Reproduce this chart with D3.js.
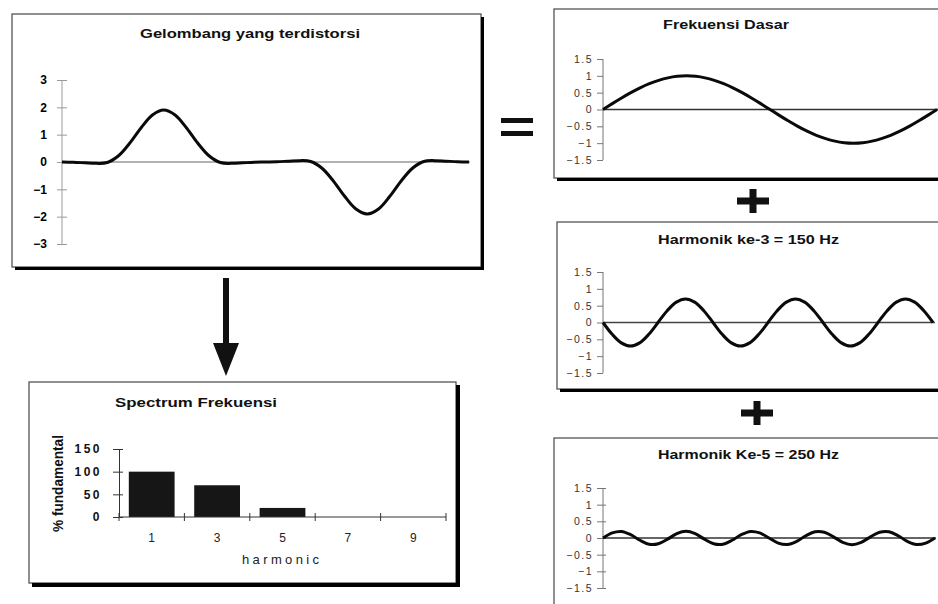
<!DOCTYPE html>
<html><head><meta charset="utf-8">
<script src="https://cdn.jsdelivr.net/npm/d3@7"></script>
<style>
body{margin:0;background:#fff}
svg{display:block}
text{font-family:"Liberation Sans",Arial,Helvetica,sans-serif}
</style>
</head><body>
<svg id="c" width="938" height="604"></svg>
<script>
const distortedWave = [0, -0.01, -0.03, -0.05, -0.02, 0.228, 0.693, 1.255, 1.72, 1.9, 1.72, 1.255, 0.693, 0.228, -0.02, -0.05, -0.03, -0.01, 0,
  0.01, 0.03, 0.05, 0.02, -0.228, -0.693, -1.255, -1.72, -1.9, -1.72, -1.255, -0.693, -0.228, 0.02, 0.05, 0.03, 0.01, 0];
const fundamentalWave = [0, 0.174, 0.342, 0.5, 0.643, 0.766, 0.866, 0.94, 0.985, 1, 0.985, 0.94, 0.866, 0.766, 0.643, 0.5, 0.342, 0.174, 0,
  -0.174, -0.342, -0.5, -0.643, -0.766, -0.866, -0.94, -0.985, -1, -0.985, -0.94, -0.866, -0.766, -0.643, -0.5, -0.342, -0.174, 0];
const harmonic3Wave = [0, -0.35, -0.606, -0.7, -0.606, -0.35, 0, 0.35, 0.606, 0.7, 0.606, 0.35, 0, -0.35, -0.606, -0.7, -0.606, -0.35, 0,
  0.35, 0.606, 0.7, 0.606, 0.35, 0, -0.35, -0.606, -0.7, -0.606, -0.35, 0, 0.35, 0.606, 0.7, 0.606, 0.35, 0];
const harmonic5Wave = [0, 0.153, 0.197, 0.1, -0.068, -0.188, -0.173, -0.035, 0.129, 0.2, 0.129, -0.035, -0.173, -0.188, -0.068, 0.1, 0.197, 0.153, 0,
  -0.153, -0.197, -0.1, 0.068, 0.188, 0.173, 0.035, -0.129, -0.2, -0.129, 0.035, 0.173, 0.188, 0.068, -0.1, -0.197, -0.153, 0];
const distortedTicks = [3, 2, 1, 0, -1, -2, -3];
const componentTicks = [1.5, 1, 0.5, 0, -0.5, -1, -1.5];
const harmonicOrders = ["1", "3", "5", "7", "9"];
const harmonicPercent = [100, 70, 20, 0, 0];
const spectrumTicks = [0, 50, 100, 150];
const titles = ["Gelombang yang terdistorsi", "Frekuensi Dasar", "Harmonik ke-3 = 150 Hz", "Harmonik Ke-5 = 250 Hz", "Spectrum Frekuensi"];

const svg = d3.select("#c");

// ---- frames ----
function frame(x, y, w, h, sw) {
  const g = svg.append("g");
  g.append("rect").attr("x", x).attr("y", y).attr("width", w).attr("height", h)
    .attr("fill", "none").attr("stroke", "#555").attr("stroke-width", 1.3);
  g.append("line").attr("x1", x + w + sw / 2).attr("x2", x + w + sw / 2).attr("y1", y + 3).attr("y2", y + h + sw)
    .attr("stroke", "#000").attr("stroke-width", sw);
  g.append("line").attr("x1", x + 3).attr("x2", x + w + sw).attr("y1", y + h + sw / 2).attr("y2", y + h + sw / 2)
    .attr("stroke", "#000").attr("stroke-width", sw);
}
frame(12, 14, 469, 253, 3);
frame(554, 9, 400, 169, 3);
frame(557, 222, 400, 167, 3);
frame(554, 438, 400, 200, 3);
frame(29, 382, 427, 201, 4);

function title(txt, cx, base, len) {
  svg.append("text").attr("x", cx).attr("y", base).attr("text-anchor", "middle")
    .attr("font-size", 12).attr("font-weight", "bold").attr("fill", "#111")
    .attr("textLength", len).attr("lengthAdjust", "spacingAndGlyphs").text(txt);
}

// ---- wave panels ----
function wavePanel(o) {
  const x = d3.scaleLinear().domain([0, o.data.length - 1]).range([o.x0, o.x1]);
  const y = d3.scaleLinear().domain([d3.min(o.ticks), d3.max(o.ticks)]).range([o.yb, o.yt]);
  const ax = d3.axisLeft(y).tickValues(o.ticks).tickSize(o.tickOut).tickPadding(o.pad)
    .tickFormat(d => d3.format("")(d));
  const g = svg.append("g").attr("transform", `translate(${o.x0},0)`).call(ax);
  g.select(".domain").attr("stroke", o.axisColor).attr("stroke-width", 1).attr("d", `M0,${y(d3.max(o.ticks))}V${y(d3.min(o.ticks))}`);
  g.selectAll(".tick line").attr("stroke", o.axisColor).attr("x2", -o.tickOut).attr("x1", o.tickIn);
  g.selectAll(".tick text").attr("font-size", o.fs).attr("font-weight", o.fw).attr("fill", o.labelColor)
    .attr("letter-spacing", o.ls).attr("font-family", '"Liberation Sans",Arial,sans-serif');
  svg.append("line").attr("x1", o.x0).attr("x2", o.zx1).attr("y1", y(0)).attr("y2", y(0))
    .attr("stroke", o.zeroColor).attr("stroke-width", o.zeroW);
  svg.append("path").datum(o.data)
    .attr("d", d3.line().x((d, i) => x(i)).y(d => y(d)).curve(d3.curveCatmullRom))
    .attr("fill", "none").attr("stroke", "#0a0a0a").attr("stroke-width", 3).attr("stroke-linejoin", "round");
}

wavePanel({data: distortedWave, ticks: distortedTicks, x0: 62, x1: 469, zx1: 470, yt: 80, yb: 244,
  tickOut: 5, tickIn: 5, pad: 10, fs: 12, fw: "bold", ls: 0, labelColor: "#000", axisColor: "#999", zeroColor: "#666", zeroW: 1});
wavePanel({data: fundamentalWave, ticks: componentTicks, x0: 603, x1: 937, zx1: 938, yt: 59, yb: 160,
  tickOut: 6, tickIn: 0, pad: 4, fs: 10.5, fw: "normal", ls: 1.5, labelColor: "#333", axisColor: "#777", zeroColor: "#333", zeroW: 1.3});
wavePanel({data: harmonic3Wave, ticks: componentTicks, x0: 603, x1: 933, zx1: 935, yt: 272, yb: 373,
  tickOut: 6, tickIn: 0, pad: 4, fs: 10.5, fw: "normal", ls: 1.5, labelColor: "#333", axisColor: "#777", zeroColor: "#444", zeroW: 1.6});
wavePanel({data: harmonic5Wave, ticks: componentTicks, x0: 603, x1: 935, zx1: 936, yt: 488, yb: 588,
  tickOut: 6, tickIn: 3, pad: 4, fs: 10.5, fw: "normal", ls: 1.5, labelColor: "#333", axisColor: "#777", zeroColor: "#333", zeroW: 1.3});

title(titles[0], 250, 38, 220);
title(titles[1], 726, 29, 126);
title(titles[2], 748.5, 244, 181);
title(titles[3], 748.5, 459, 181);
title(titles[4], 196, 407, 162);

// ---- spectrum bar chart ----
const xb = d3.scaleBand().domain(harmonicOrders).range([119, 446]).paddingInner(0.3).paddingOuter(0.15);
const yb = d3.scaleLinear().domain([0, 150]).range([517, 449]);
const bars = svg.append("g");
bars.selectAll("rect").data(harmonicOrders.map((h, i) => ({h, v: harmonicPercent[i]})).filter(d => d.v > 0))
  .join("rect").attr("x", d => xb(d.h)).attr("width", xb.bandwidth())
  .attr("y", d => yb(d.v)).attr("height", d => yb(0) - yb(d.v)).attr("fill", "#161616");

const yAx = svg.append("g").attr("transform", "translate(119,0)")
  .call(d3.axisLeft(yb).tickValues(spectrumTicks).tickSize(6).tickPadding(11));
yAx.select(".domain").attr("stroke", "#333");
yAx.selectAll(".tick line").attr("x1", 4).attr("stroke", "#333");
yAx.selectAll(".tick text").attr("font-size", 12).attr("font-weight", "bold").attr("letter-spacing", 2.5).attr("fill", "#111")
  .attr("font-family", '"Liberation Sans",Arial,sans-serif');

const step = xb.step();
const xAx = svg.append("g").attr("transform", "translate(0,517)");
xAx.append("line").attr("x1", 119).attr("x2", 446).attr("stroke", "#333");
const bounds = [xb(harmonicOrders[0]) - xb.paddingInner() * step / 2].concat(harmonicOrders.map(h => xb(h) + xb.bandwidth() + xb.paddingInner() * step / 2));
xAx.selectAll("line.t").data(bounds).join("line").attr("class", "t")
  .attr("x1", d => d).attr("x2", d => d).attr("y1", -4).attr("y2", 4).attr("stroke", "#333");
xAx.selectAll("text").data(harmonicOrders).join("text")
  .attr("x", d => xb(d) + xb.bandwidth() / 2).attr("y", 25).attr("text-anchor", "middle")
  .attr("font-size", 12).attr("fill", "#222").text(d => d);
svg.append("text").attr("x", 280.5).attr("y", 564).attr("text-anchor", "middle").attr("font-size", 13).attr("fill", "#222")
  .attr("textLength", 77).attr("lengthAdjust", "spacing").text("harmonic");
svg.append("text").attr("transform", "translate(63,483.5) rotate(-90)").attr("text-anchor", "middle")
  .attr("font-size", 15).attr("font-weight", "bold").attr("fill", "#111")
  .attr("textLength", 97).attr("lengthAdjust", "spacingAndGlyphs").text("% fundamental");

// ---- connectors: arrow, equals, plus ----
svg.append("rect").attr("x", 223).attr("y", 278).attr("width", 6).attr("height", 68).attr("fill", "#111");
svg.append("path").attr("d", "M213,343 L239,343 L226,376 Z").attr("fill", "#111");
svg.append("rect").attr("x", 501).attr("y", 118).attr("width", 32).attr("height", 5).attr("fill", "#111");
svg.append("rect").attr("x", 501).attr("y", 131).attr("width", 32).attr("height", 5).attr("fill", "#111");
function plus(cx, cy) {
  svg.append("rect").attr("x", cx - 16).attr("y", cy - 3.5).attr("width", 32).attr("height", 7).attr("fill", "#111");
  svg.append("rect").attr("x", cx - 3.5).attr("y", cy - 12).attr("width", 7).attr("height", 24).attr("fill", "#111");
}
plus(753, 201);
plus(757, 413);
</script>
</body></html>
